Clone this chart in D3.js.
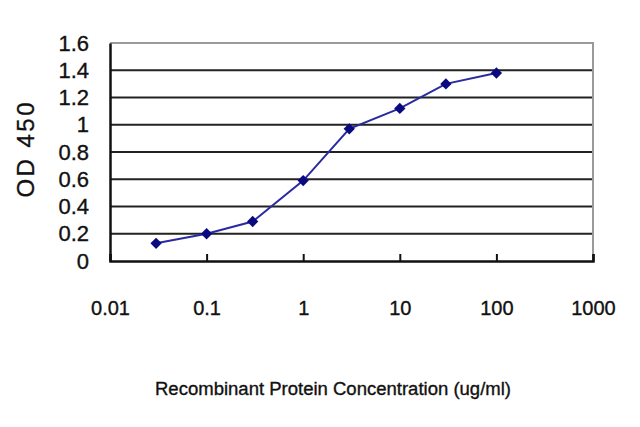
<!DOCTYPE html>
<html lang="en">
<head>
<meta charset="UTF-8">
<title>OD 450 vs concentration</title>
<script src="https://d3js.org/d3.v7.min.js"></script>
<style>
    body { margin: 0; background: #fff; }
    svg { display: block; }
    text { font-family: "Liberation Sans", Arial, sans-serif; fill: #111; }
    .heavy { stroke: #111; stroke-width: 0.35; }
</style>
</head>
<body>
<svg id="chart" width="640" height="427"></svg>
<script>
    // data
    const concentrations = [0.03, 0.1, 0.3, 1, 3, 10, 30, 100];
    const odValues = [0.13, 0.2, 0.29, 0.59, 0.97, 1.12, 1.3, 1.38];
    const xTicks = [0.01, 0.1, 1, 10, 100, 1000];
    const yTicks = [0, 0.2, 0.4, 0.6, 0.8, 1, 1.2, 1.4, 1.6];

    const svg = d3.select("#chart");
    const margin = { top: 43, right: 47, bottom: 166, left: 110 };
    const w = 640 - margin.left - margin.right;
    const h = 427 - margin.top - margin.bottom;

    const g = svg.append("g")
        .attr("transform", `translate(${margin.left},${margin.top})`);

    const x = d3.scaleLog().domain([0.01, 1000]).range([0, w]);
    const y = d3.scaleLinear().domain([0, 1.6]).range([h, 0]);

    // horizontal gridlines
    g.selectAll(".grid")
        .data(yTicks.filter(d => d > 0 && d < 1.6))
        .enter().append("line")
        .attr("x1", 0).attr("x2", w)
        .attr("y1", d => y(d)).attr("y2", d => y(d))
        .attr("stroke", "#222").attr("stroke-width", 2);

    // top and right frame in grey
    g.append("path")
        .attr("d", `M0,${y(1.6)}H${w}V${h}`)
        .attr("fill", "none").attr("stroke", "#9a9a9a").attr("stroke-width", 2);

    // x axis
    const xAxis = g.append("g")
        .attr("transform", `translate(0,${h})`)
        .call(d3.axisBottom(x).tickValues(xTicks).tickFormat(d => String(d)).tickSize(-7).tickPadding(40));
    xAxis.select(".domain").attr("stroke", "#111").attr("stroke-width", 2.5);
    xAxis.selectAll(".tick line").attr("stroke", "#111").attr("stroke-width", 2);
    xAxis.selectAll("text").attr("font-size", 20).attr("class", "heavy")
        .style("font-family", "'Liberation Sans', Arial, sans-serif").attr("fill", "#111");

    // y axis
    const yAxis = g.append("g")
        .call(d3.axisLeft(y).tickValues(yTicks).tickFormat(d => String(d)).tickSize(0).tickPadding(21));
    yAxis.select(".domain").attr("stroke", "#111").attr("stroke-width", 2.5);
    yAxis.selectAll("text").attr("font-size", 22).attr("class", "heavy")
        .style("font-family", "'Liberation Sans', Arial, sans-serif").attr("fill", "#111");

    // series
    const pts = concentrations.map((c, i) => [c, odValues[i]]);
    g.append("path")
        .datum(pts)
        .attr("fill", "none")
        .attr("stroke", "#2a2aa0")
        .attr("stroke-width", 2)
        .attr("d", d3.line().x(d => x(d[0])).y(d => y(d[1])));

    g.selectAll(".pt")
        .data(pts)
        .enter().append("path")
        .attr("transform", d => `translate(${x(d[0])},${y(d[1])}) rotate(45)`)
        .attr("d", d3.symbol(d3.symbolSquare, 64))
        .attr("fill", "#0a0a80");

    // axis titles
    svg.append("text")
        .attr("class", "heavy")
        .attr("transform", "translate(34,150) rotate(-90)")
        .attr("text-anchor", "middle")
        .attr("font-size", 24)
        .attr("textLength", 95)
        .text("OD 450");

    svg.append("text")
        .attr("class", "heavy")
        .attr("x", 333).attr("y", 395)
        .attr("text-anchor", "middle")
        .attr("font-size", 18)
        .attr("textLength", 356)
        .attr("lengthAdjust", "spacingAndGlyphs")
        .text("Recombinant Protein Concentration (ug/ml)");
</script>
</body>
</html>
